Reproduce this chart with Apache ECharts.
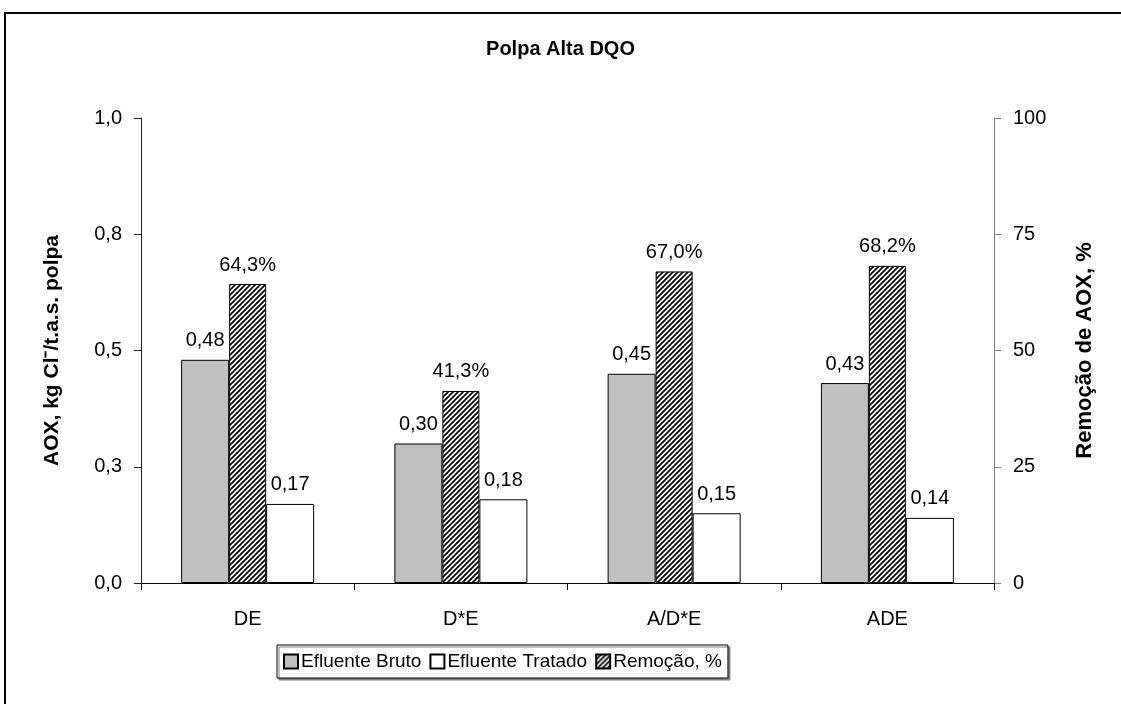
<!DOCTYPE html>
<html>
<head>
<meta charset="utf-8">
<script src="https://cdn.jsdelivr.net/npm/echarts@6/dist/echarts.min.js"></script>
<style>
html,body{margin:0;padding:0;background:#fff;}
#chart{width:1121px;height:704px;}
</style>
</head>
<body>
<div id="chart"></div>
<script>
var categories = ['DE', 'D*E', 'A/D*E', 'ADE'];
var bruto = [0.48, 0.30, 0.45, 0.43];
var tratado = [0.17, 0.18, 0.15, 0.14];
var remocao = [64.3, 41.3, 67.0, 68.2];
var leftTickLabels = ['0,0', '0,3', '0,5', '0,8', '1,0'];
var rightTickLabels = ['0', '25', '50', '75', '100'];

var FONT = '"Liberation Sans", Arial, sans-serif';

// hatch pattern "/"
var tile = document.createElement('canvas');
var T = 5;
tile.width = T; tile.height = T;
var g = tile.getContext('2d');
g.fillStyle = '#fff';
g.fillRect(0, 0, T, T);
g.strokeStyle = '#000';
g.lineWidth = 1.7;
g.beginPath();
g.moveTo(-1, T + 1); g.lineTo(T + 1, -1);
g.moveTo(-1, 1); g.lineTo(1, -1);
g.moveTo(T - 1, T + 1); g.lineTo(T + 1, T - 1);
g.stroke();

function fmt2(v) { return v.toFixed(2).replace('.', ','); }
function fmt1(v) { return v.toFixed(1).replace('.', ',') + '%'; }

var chart = echarts.init(document.getElementById('chart'), null, {renderer: 'canvas'});
chart.setOption({
  backgroundColor: '#fff',
  animation: false,
  textStyle: {fontFamily: FONT},
  title: {
    text: 'Polpa Alta DQO',
    left: 'center',
    top: 34,
    textStyle: {fontFamily: FONT, fontSize: 20, fontWeight: 'bold', color: '#000'}
  },
  graphic: [{
    type: 'rect',
    shape: {x: 5, y: 13, width: 1300, height: 900},
    style: {fill: 'none', stroke: '#000', lineWidth: 2},
    silent: true
  }],
  legend: {
    data: ['Efluente Bruto', 'Efluente Tratado', 'Remoção, %'],
    left: 277,
    top: 645,
    itemWidth: 14,
    itemHeight: 14,
    itemGap: 8,
    padding: [7, 6, 7, 6],
    borderColor: '#000',
    borderWidth: 1,
    backgroundColor: '#fff',
    shadowColor: '#808080',
    shadowOffsetX: 2,
    shadowOffsetY: 2,
    shadowBlur: 0,
    textStyle: {fontFamily: FONT, fontSize: 19, color: '#000', padding: [0, 0, 0, -2]},
    icon: 'rect'
  },
  grid: {left: 141, right: 127, top: 118, bottom: 121, containLabel: false},
  xAxis: {
    type: 'category',
    data: categories,
    boundaryGap: true,
    axisLine: {lineStyle: {color: '#000', width: 1}},
    axisTick: {show: true, alignWithLabel: false, length: 7, lineStyle: {color: '#000'}},
    axisLabel: {fontFamily: FONT, fontSize: 20, color: '#000', margin: 26},
    splitLine: {show: false}
  },
  yAxis: [{
    type: 'value',
    min: 0, max: 1, interval: 0.25,
    position: 'left',
    name: 'AOX, kg Cl\u207B/t.a.s. polpa',
    nameLocation: 'middle',
    nameRotate: 90,
    nameGap: 78,
    nameTextStyle: {fontFamily: FONT, fontSize: 21, fontWeight: 'bold', color: '#000'},
    axisLine: {show: true, lineStyle: {color: '#222', width: 1}},
    axisTick: {show: true, inside: false, length: 7, lineStyle: {color: '#222'}},
    axisLabel: {
      fontFamily: FONT, fontSize: 20, color: '#000', margin: 19,
      formatter: function (v) { return leftTickLabels[Math.round(v / 0.25)]; }
    },
    splitLine: {show: false}
  }, {
    type: 'value',
    min: 0, max: 100, interval: 25,
    position: 'right',
    name: 'Remoção de AOX, %',
    nameLocation: 'middle',
    nameRotate: 90,
    nameGap: 80,
    nameTextStyle: {fontFamily: FONT, fontSize: 22, fontWeight: 'bold', color: '#000'},
    axisLine: {show: true, lineStyle: {color: '#808080', width: 1}},
    axisTick: {show: true, inside: false, length: 7, lineStyle: {color: '#808080'}},
    axisLabel: {
      fontFamily: FONT, fontSize: 20, color: '#000', margin: 19,
      formatter: function (v) { return rightTickLabels[Math.round(v / 25)]; }
    },
    splitLine: {show: false}
  }],
  series: [{
    name: 'Efluente Bruto',
    type: 'bar',
    yAxisIndex: 0,
    data: bruto,
    barWidth: 48,
    barGap: '0%',
    itemStyle: {color: '#C0C0C0', borderColor: '#000', borderWidth: 1},
    label: {show: true, position: 'top', distance: 9, fontFamily: FONT, fontSize: 20, color: '#000',
      formatter: function (p) { return fmt2(p.value); }}
  }, {
    name: 'Remoção, %',
    type: 'bar',
    yAxisIndex: 1,
    data: remocao,
    barWidth: 37,
    barGap: '0%',
    itemStyle: {color: {image: tile, repeat: 'repeat'}, borderColor: '#000', borderWidth: 1},
    label: {show: true, position: 'top', distance: 9, fontFamily: FONT, fontSize: 20, color: '#000',
      formatter: function (p) { return fmt1(p.value); }}
  }, {
    name: 'Efluente Tratado',
    type: 'bar',
    yAxisIndex: 0,
    data: tratado,
    barWidth: 48,
    barGap: '0%',
    itemStyle: {color: '#FFFFFF', borderColor: '#000', borderWidth: 1},
    label: {show: true, position: 'top', distance: 9, fontFamily: FONT, fontSize: 20, color: '#000',
      formatter: function (p) { return fmt2(p.value); }}
  }]
});
</script>
</body>
</html>
